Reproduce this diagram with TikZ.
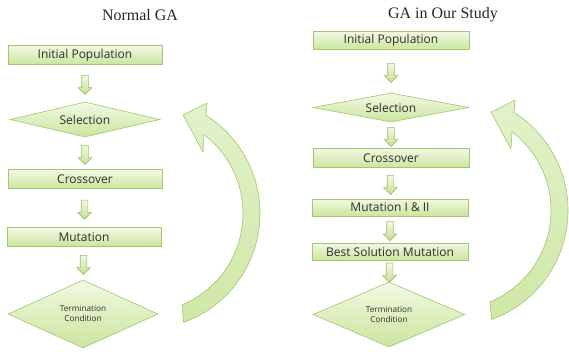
\documentclass[tikz,border=0pt]{standalone}
\usepackage{fontspec}
\setmainfont{Liberation Serif}
\newfontfamily\boxfont{Open Sans}
\usepackage{xcolor}
\definecolor{gatop}{HTML}{F2F9E3}
\definecolor{gabot}{HTML}{CBE59E}
\definecolor{galine}{HTML}{A3C66E}
\definecolor{gaarrow}{HTML}{9DBF63}
\definecolor{galoop}{HTML}{E2F2CA}
\definecolor{gatext}{HTML}{2E2E2E}
\usepackage{tikz}
\usetikzlibrary{shapes.geometric, shapes.arrows, calc}

\begin{document}
\begin{tikzpicture}[x=1pt, y=1pt,
    title/.style={font=\fontsize{16}{18}\selectfont, text=black!85},
    stepbox/.style={draw=galine, line width=0.6pt, top color=gatop, bottom color=gabot,
      minimum width=154pt, minimum height=19pt, inner sep=0pt, text=gatext,
      font=\boxfont\fontsize{12}{14}\selectfont},
    choice/.style={diamond, draw=galine, line width=0.6pt, top color=gatop, bottom color=gabot,
      inner sep=0pt, text=gatext, align=center, font=\boxfont\fontsize{12}{14}\selectfont},
    small/.style={font=\boxfont\fontsize{8.2}{10}\selectfont},
    downarrow/.style={single arrow, shape border rotate=270, draw=gaarrow, line width=0.6pt,
      top color=gatop, bottom color=gabot!85!gaarrow, minimum height=19pt, minimum width=13pt,
      single arrow head extend=3.5pt, inner sep=3pt},
    loopfill/.style={draw=galine, line width=0.6pt, top color=galoop, bottom color=gabot!80!galoop}]
  \useasboundingbox (0,0) rectangle (569,-351);

  % Titles
  \node[title] (tl) at (140,-15) {Normal GA};
  \node[title] (tr) at (443,-15) {GA in Our Study};

  % Normal GA
  \node[stepbox] (init1) at (85,-55) {Initial Population};
  \node[choice, aspect=4.3, minimum width=150pt, minimum height=35pt] (sel1) at (85,-119.5) {Selection};
  \node[stepbox] (cross1) at (85,-179) {Crossover};
  \node[stepbox] (mut1) at (84,-237) {Mutation};
  \node[choice, small, aspect=2.2, minimum width=150pt, minimum height=68pt] (term1) at (83,-314)
    {Termination\\Condition};

  % GA in our study
  \node[stepbox, minimum width=156pt, minimum height=18pt] (init2) at (391,-40.5) {Initial Population};
  \node[choice, aspect=5.4, minimum width=156pt, minimum height=29pt] (sel2) at (391,-107.5) {Selection};
  \node[stepbox, minimum width=156pt, minimum height=19pt] (cross2) at (391,-158) {Crossover};
  \node[stepbox, minimum width=156pt, minimum height=17pt] (mut2) at (390,-207.5) {Mutation I \& II};
  \node[stepbox, minimum width=156pt, minimum height=17pt] (best2) at (390,-251.5) {Best Solution Mutation};
  \node[choice, small, aspect=2.3, minimum width=152pt, minimum height=65pt] (term2) at (389,-314.5)
    {Termination\\Condition};

  % Block arrows between steps
  \foreach \a/\b in {init1/sel1, sel1/cross1, cross1/mut1, mut1/term1,
                     init2/sel2, sel2/cross2, cross2/mut2, mut2/best2, best2/term2}
    \node[downarrow] (\a-\b) at ($(\a.south)!0.5!(\b.north)$) {};

  % Loop back arrows
  \foreach \cx/\cy in {144/213.4, 452/210.5}
    \draw[loopfill, shift={(\cx,-\cy)}]
      (-70:116) arc[start angle=-70, end angle=57.7, radius=116]
      -- (63,110.4) -- (39,98.4) -- (59,61.4)
      -- (52.7:99) arc[start angle=52.7, end angle=-67.5, radius=99] -- cycle;
\end{tikzpicture}
\end{document}
